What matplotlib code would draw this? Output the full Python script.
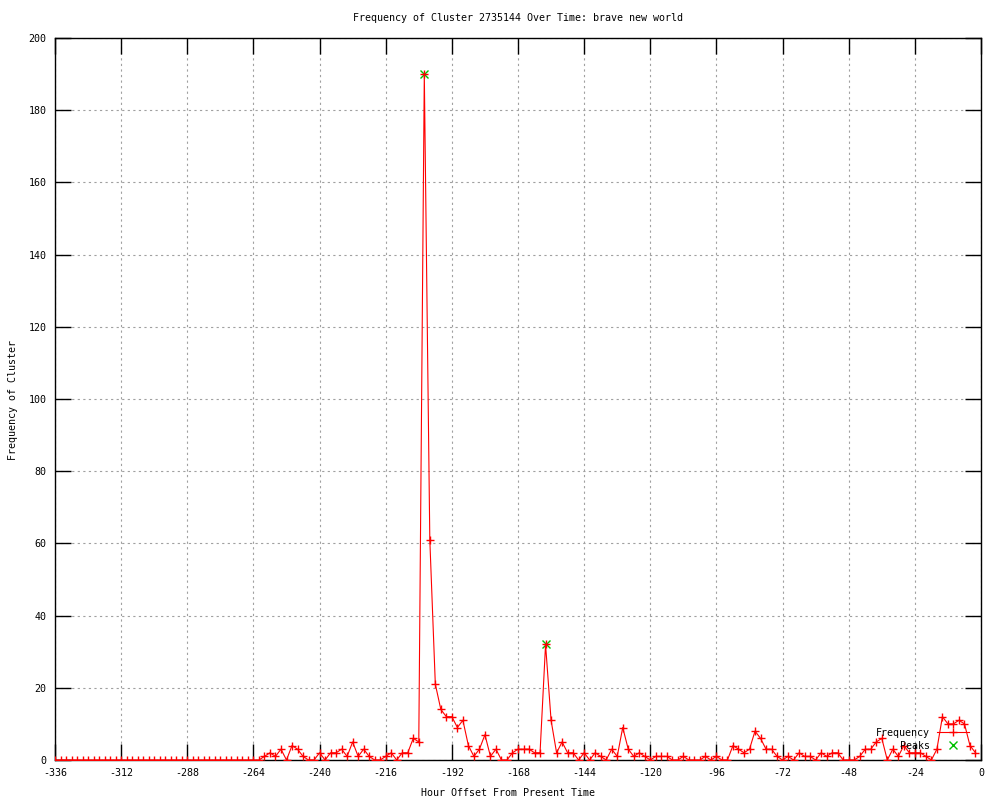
import numpy as np
import matplotlib
matplotlib.use("Agg")
import matplotlib.pyplot as plt

# hourly offsets (every 2 hours) and cluster frequency
hours = list(range(-336, 0, 2))
freq = [0] * 38 + [
    1, 2, 1, 3, 0, 4, 3, 1, 0, 0,          # -260 .. -242
    2, 0, 2, 2, 3, 1, 5, 1, 3, 1,          # -240 .. -222
    0, 0, 1, 2, 0, 2, 2, 6, 5, 190,        # -220 .. -202
    61, 21, 14, 12, 12, 9, 11, 4, 1, 3,    # -200 .. -182
    7, 1, 3, 0, 0, 2, 3, 3, 3, 2,          # -180 .. -162
    2, 32, 11, 2, 5, 2, 2, 0, 2, 0,        # -160 .. -142
    2, 1, 0, 3, 1, 9, 3, 1, 2, 1,          # -140 .. -122
    0, 1, 1, 1, 0, 0, 1, 0, 0, 0,          # -120 .. -102
    1, 0, 1, 0, 0, 4, 3, 2, 3, 8,          # -100 .. -82
    6, 3, 3, 1, 0, 1, 0, 2, 1, 1,          # -80 .. -62
    0, 2, 1, 2, 2, 0, 0, 0, 1, 3,          # -60 .. -42
    3, 5, 6, 0, 3, 1, 4, 2, 2, 2,          # -40 .. -22
    1, 0, 3, 12, 10, 10, 11, 10, 4, 2,     # -20 .. -2
]
peak_hours = [-202, -158]
peak_vals = [190, 32]

title = "Frequency of Cluster 2735144 Over Time: brave new world"
x_ticks = list(range(-336, 1, 24))
y_ticks = list(range(0, 201, 20))

font = "DejaVu Sans Mono"
fs = 7.2
plt.rcParams["font.family"] = font
plt.rcParams["font.size"] = fs
plt.rcParams["axes.unicode_minus"] = False

fig = plt.figure(figsize=(10, 8), dpi=100)
ax = fig.add_axes([0.055, 0.05, 0.926, 0.9025])

ax.plot(hours, freq, color="red", lw=0.8, marker="+", ms=6, mew=1,
        label="Frequency", zorder=3)
ax.plot(peak_hours, peak_vals, ls="none", color="#00c000", marker="x", ms=5.5,
        mew=1, label="Peaks", zorder=2)

ax.set_xlim(-336, 0)
ax.set_ylim(0, 200)
ax.set_xticks(x_ticks)
ax.set_yticks(y_ticks)
ax.tick_params(direction="in", length=11.5, width=1, top=True, right=True,
               labelsize=fs, pad=6)
ax.grid(True, color="#a0a0a0", lw=0.8, ls=(0, (2, 3)))
for s in ax.spines.values():
    s.set_linewidth(1)

fig.text(0.518, 1 - 18 / 800, title, ha="center", va="center", fontsize=fs)
fig.text(0.508, 1 - 793 / 800, "Hour Offset From Present Time", ha="center",
         va="center", fontsize=fs)
fig.text(13 / 1000, 0.5, "Frequency of Cluster", rotation=90, ha="center",
         va="center", fontsize=fs)

ax.legend(loc="lower right", bbox_to_anchor=(0.987, 0.013), frameon=False,
          markerfirst=False, numpoints=1, handlelength=3.2, handletextpad=0.7,
          labelspacing=0.3, borderpad=0, borderaxespad=0, fontsize=fs)

fig.savefig("out.png", dpi=100)
